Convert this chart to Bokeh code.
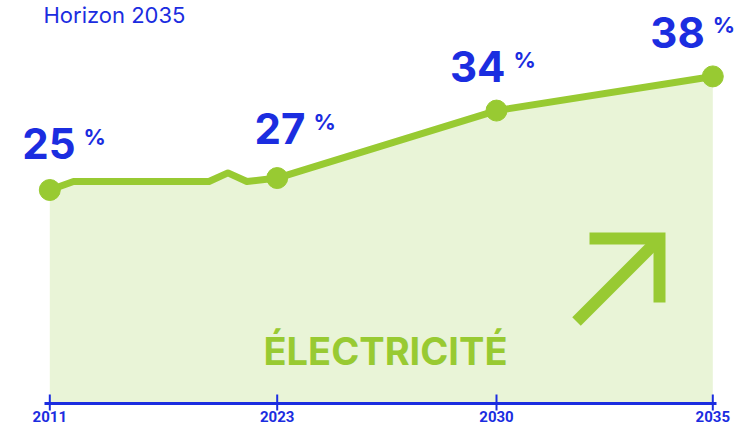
import numpy as np
from bokeh.plotting import figure
from bokeh.models import Range1d, Label
from bokeh.core.properties import value
from bokeh.embed import file_html
from bokeh.resources import INLINE

# ---------------- data ----------------
title_text = "Horizon 2035"
category_text = "ÉLECTRICITÉ"
years = [2011, 2012.25, 2019.4, 2020.4, 2021.4, 2023, 2030, 2035]
share = [25.0, 26.0, 26.0, 27.0, 26.0, 26.4, 34.3, 38.3]      # plotted share, %
tick_years = [2011, 2023, 2030, 2035]
tick_labels = ["2011", "2023", "2030", "2035"]
milestone_years = [2011, 2023, 2030, 2035]
milestone_labels = ["25", "27", "34", "38"]

# ---------------- style / layout ----------------
BLUE = "#1b2de0"
GREEN = "#98ca32"
LIGHT = "#e9f4d7"
W, H = 737, 426
TICK_PX = [49.3, 276.7, 496.0, 712.3]   # non-uniform spacing of the axis categories
ZERO_PX_Y = 403
PX_PER_PCT = 8.54
BASE_COMP = 0.385                        # svg baseline compensation (em)

def vy(py):
    return (ZERO_PX_Y - py) / PX_PER_PCT

def text_y(baseline_px, size):
    return vy(baseline_px - BASE_COMP * size)

x_pos = np.interp(years, tick_years, TICK_PX)

p = figure(width=W, height=H, x_range=Range1d(0, W),
           y_range=Range1d(vy(H), vy(0)),
           output_backend="svg", toolbar_location=None,
           x_axis_location=None, y_axis_location=None,
           min_border=0, outline_line_color=None,
           background_fill_color="white", border_fill_color="white")
p.grid.visible = False

# area + line
p.varea(x=x_pos, y1=np.zeros(len(years)), y2=share, fill_color=LIGHT)
p.line(x=x_pos, y=share, line_width=7, line_color=GREEN, line_join="round")

m_idx = [years.index(y) for y in milestone_years]
m_x = [x_pos[i] for i in m_idx]
m_y = [share[i] for i in m_idx]
p.scatter(x=m_x, y=m_y, size=21, fill_color=GREEN, line_color=GREEN)

# axis
p.line(x=[44, 716], y=[0, 0], line_width=3, line_color=BLUE)
p.segment(x0=TICK_PX, y0=[vy(394)] * 4, x1=TICK_PX, y1=[vy(410)] * 4,
          line_width=2, line_color=BLUE)
p.text(x=TICK_PX, y=[text_y(422, 15)] * 4, text=tick_labels,
       text_font=value("Roboto"), text_font_size=value("15px"),
       text_font_style="bold", text_align="center", text_baseline="alphabetic",
       text_color=BLUE)

# milestone labels
NUM_SIZE, PCT_SIZE = 42, 22
DX = [25.7, 28.3, 9.0, -8.0]     # px, right edge of number from dot
DY = [30.0, 33.0, 28.0, 28.0]    # px, baseline above dot
for i in range(len(m_x)):
    right = m_x[i] + DX[i]
    dot_px = ZERO_PX_Y - m_y[i] * PX_PER_PCT
    base_px = dot_px - DY[i]
    p.add_layout(Label(x=right, y=text_y(base_px, NUM_SIZE), text=milestone_labels[i],
                       text_font="Inter", text_font_size=f"{NUM_SIZE}px",
                       text_font_style="bold", text_color=BLUE,
                       text_align="right", text_baseline="alphabetic"))
    p.add_layout(Label(x=right + 8, y=text_y(base_px - 14.5, PCT_SIZE), text="%",
                       text_font="Inter", text_font_size=f"{PCT_SIZE}px",
                       text_font_style="bold", text_color=BLUE,
                       text_align="left", text_baseline="alphabetic"))

# title
p.add_layout(Label(x=43, y=text_y(23, 22), text=title_text, text_font="Inter",
                   text_font_size="22px", text_color=BLUE,
                   text_align="left", text_baseline="alphabetic"))

# category label
p.add_layout(Label(x=385, y=text_y(365, 38), text=category_text, text_font="Inter",
                   text_font_size="38px", text_font_style="bold",
                   text_color=GREEN, text_align="center", text_baseline="alphabetic"))

# decorative arrow
p.line(x=[589, 659, 659], y=[vy(238), vy(238), vy(302)],
       line_width=12, line_color=GREEN, line_join="miter", line_cap="butt")
p.line(x=[576, 659], y=[vy(321), vy(238)],
       line_width=12, line_color=GREEN, line_cap="butt")

open("out.html", "w").write(file_html(p, INLINE))
